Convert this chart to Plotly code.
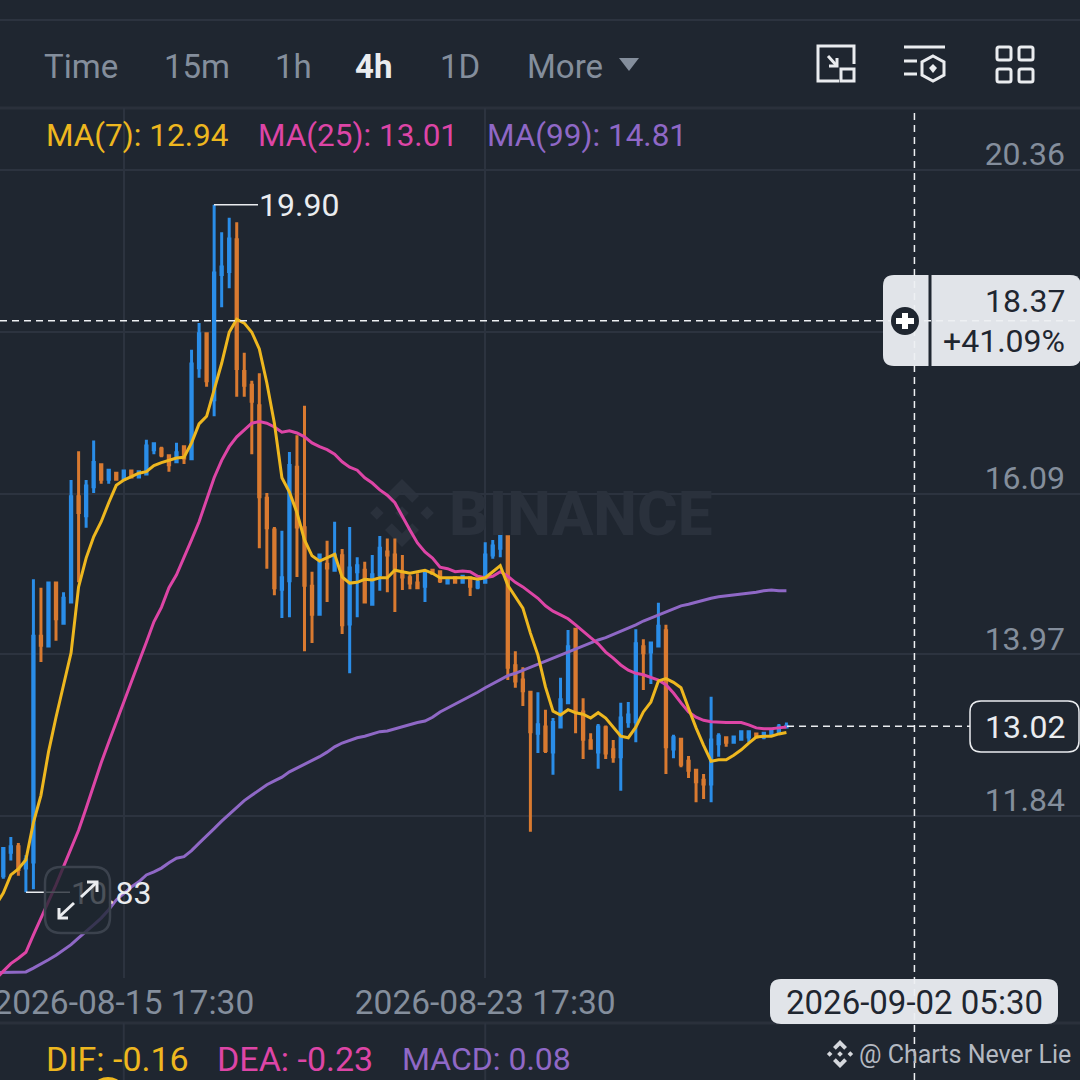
import pandas as pd
import plotly.graph_objects as go

BG = '#1f2630'
GRID = '#2c333f'
GREY = '#848e9c'
WHITE = '#eaecef'
LIGHT = '#e1e4e9'
DARK = '#1f2630'
BLUE = '#2a8de8'
ORANGE = '#d97a30'
YELLOW = '#eeb71f'
PINK = '#dd45a6'
PURPLE = '#8f68c6'
FONT = 'Roboto'

# 4h candles, first one sits just off the left edge
dates = pd.date_range('2026-08-12 21:30', periods=106, freq='4h')

opens = [11.00, 11.05, 11.36, 11.43, 11.15, 11.23, 14.21, 14.08, 14.91, 14.38, 14.66, 16.05, 15.80, 16.18, 16.47, 16.28, 16.36, 16.28, 16.39, 16.31, 16.35,
         16.67, 16.68, 16.59, 16.51, 16.71, 16.55, 17.75, 18.20, 17.33, 18.98, 19.02, 19.44, 17.70, 17.52, 17.25, 16.03, 15.61, 14.83, 14.94, 16.44,
         15.64, 14.87, 14.50, 15.16, 15.08, 15.27, 14.37, 15.06, 15.08, 14.63, 15.02, 15.32, 15.28, 15.04, 14.98, 14.91, 14.87, 15.08, 15.06, 14.91,
         14.98, 14.92, 14.98, 14.86, 14.92, 15.28, 15.37, 15.52, 13.82, 13.63, 13.47, 12.93, 13.01, 12.68, 13.01, 13.33, 14.30, 13.21, 12.83, 12.68,
         13.00, 12.71, 12.62, 13.08, 13.08, 14.07, 14.00, 14.08, 14.28, 12.72, 12.85, 12.56, 12.44, 12.31, 12.26, 12.79, 12.87, 12.81, 12.85, 12.88,
         12.92, 12.88, 12.92, 12.93, 13.01]
highs = [11.20, 11.42, 11.56, 11.48, 11.32, 14.96, 14.85, 14.91, 14.91, 14.79, 16.27, 16.65, 16.27, 16.79, 16.47, 16.40, 16.36, 16.40, 16.40, 16.38, 16.80,
         16.76, 16.71, 16.59, 16.76, 16.72, 17.99, 18.34, 18.20, 19.90, 19.54, 19.73, 19.67, 17.95, 17.58, 17.68, 16.10, 15.65, 15.60, 16.64, 16.86,
         17.25, 15.06, 15.28, 15.47, 15.72, 15.36, 15.65, 15.25, 15.19, 15.28, 15.53, 15.50, 15.50, 15.28, 15.02, 15.04, 15.08, 15.10, 15.07, 14.96,
         14.99, 15.02, 14.99, 14.98, 15.45, 15.48, 15.56, 15.53, 14.01, 13.80, 13.47, 13.47, 13.24, 13.13, 13.66, 14.29, 14.30, 13.39, 12.93, 13.05,
         13.03, 12.84, 13.33, 13.34, 14.30, 14.17, 14.13, 14.65, 14.36, 12.91, 12.85, 12.63, 12.44, 12.39, 13.41, 12.93, 12.89, 12.88, 12.96, 12.97,
         12.93, 12.93, 12.97, 13.05, 13.07]
lows = [10.90, 11.01, 11.25, 11.05, 10.83, 10.87, 13.87, 14.08, 14.15, 14.37, 14.65, 14.92, 15.64, 16.10, 16.22, 16.22, 16.27, 16.28, 16.31, 16.31, 16.34,
        16.61, 16.57, 16.38, 16.50, 16.48, 16.55, 17.62, 17.50, 17.11, 18.55, 18.80, 17.37, 17.37, 16.61, 15.37, 15.10, 14.75, 14.45, 14.46, 14.99,
        14.01, 14.12, 14.49, 14.66, 15.07, 14.24, 13.72, 14.46, 14.65, 14.62, 14.81, 14.79, 14.53, 14.82, 14.83, 14.83, 14.66, 15.03, 14.91, 14.90,
        14.90, 14.91, 14.74, 14.83, 14.91, 15.23, 15.25, 13.63, 13.53, 13.29, 11.63, 12.67, 12.67, 12.38, 13.01, 13.33, 12.93, 12.59, 12.71, 12.46,
        12.59, 12.54, 12.17, 13.00, 12.81, 13.50, 13.58, 14.08, 12.39, 12.60, 12.48, 12.34, 12.02, 12.06, 12.02, 12.62, 12.75, 12.81, 12.85, 12.81,
        12.88, 12.85, 12.92, 12.93, 13.00]
closes = [11.05, 11.41, 11.43, 11.13, 11.26, 14.21, 14.09, 14.91, 14.44, 14.71, 16.05, 15.84, 16.19, 16.50, 16.28, 16.40, 16.28, 16.39, 16.31, 16.38, 16.72,
          16.75, 16.60, 16.47, 16.63, 16.56, 17.80, 18.20, 17.58, 19.00, 19.08, 19.45, 17.74, 17.52, 17.31, 16.05, 15.64, 14.85, 14.98, 16.46, 15.65,
          14.88, 14.50, 15.28, 15.11, 15.28, 14.36, 15.11, 15.14, 14.66, 15.02, 15.37, 15.28, 15.08, 14.99, 14.91, 14.85, 15.06, 15.04, 14.94, 14.96,
          14.92, 15.00, 14.87, 14.92, 15.28, 15.40, 15.56, 13.80, 13.62, 13.49, 12.95, 13.04, 12.70, 13.07, 13.37, 14.07, 13.22, 12.85, 12.73, 13.01,
          12.67, 12.62, 13.13, 13.17, 14.11, 13.99, 14.12, 14.34, 12.75, 12.87, 12.52, 12.44, 12.29, 12.26, 12.84, 12.89, 12.81, 12.88, 12.95, 12.95,
          12.88, 12.93, 12.96, 13.01, 13.02]

ma7 = [10.66, 10.82, 11.06, 11.14, 11.26, 11.75, 12.11, 12.68, 13.14, 13.57, 13.99, 14.86, 15.24, 15.52, 15.72, 15.97, 16.20, 16.27, 16.32, 16.36, 16.38,
       16.46, 16.50, 16.53, 16.56, 16.57, 16.76, 17.01, 17.11, 17.46, 17.81, 18.22, 18.39, 18.34, 18.22, 18.00, 17.55, 17.02, 16.30, 16.11, 15.84,
       15.48, 15.27, 15.20, 15.24, 15.29, 14.99, 14.91, 14.92, 14.96, 14.95, 14.98, 14.98, 15.08, 15.06, 15.04, 15.06, 15.08, 15.04, 14.98, 14.98,
       14.98, 14.98, 14.98, 14.96, 14.98, 15.06, 15.14, 14.88, 14.73, 14.58, 14.25, 13.96, 13.54, 13.22, 13.17, 13.24, 13.20, 13.18, 13.13, 13.20,
       13.13, 13.01, 12.89, 12.87, 13.01, 13.21, 13.34, 13.62, 13.65, 13.60, 13.53, 13.26, 13.00, 12.77, 12.56, 12.58, 12.58, 12.64, 12.71, 12.80,
       12.88, 12.89, 12.89, 12.92, 12.94]
ma25 = [9.69, 9.79, 9.89, 9.96, 10.04, 10.27, 10.49, 10.69, 10.93, 11.17, 11.42, 11.65, 11.94, 12.25, 12.54, 12.81, 13.08, 13.33, 13.60, 13.87, 14.13,
        14.40, 14.59, 14.85, 15.02, 15.24, 15.48, 15.72, 16.01, 16.30, 16.53, 16.71, 16.84, 16.93, 17.02, 17.04, 17.02, 16.97, 16.90, 16.92, 16.89,
        16.84, 16.76, 16.71, 16.67, 16.61, 16.51, 16.44, 16.40, 16.30, 16.23, 16.14, 16.07, 15.97, 15.78, 15.61, 15.44, 15.32, 15.24, 15.12, 15.10,
        15.06, 15.07, 15.06, 15.00, 14.98, 15.00, 15.06, 15.00, 14.92, 14.86, 14.79, 14.71, 14.61, 14.54, 14.49, 14.44, 14.36, 14.27, 14.19, 14.11,
        14.00, 13.92, 13.83, 13.76, 13.72, 13.70, 13.67, 13.63, 13.57, 13.46, 13.33, 13.21, 13.14, 13.10, 13.08, 13.07, 13.07, 13.07, 13.07, 13.04,
        13.00, 12.99, 12.99, 13.00, 13.01]
ma99 = [9.77, 9.77, 9.77, 9.77, 9.78, 9.83, 9.88, 9.94, 10.00, 10.07, 10.14, 10.23, 10.31, 10.40, 10.49, 10.60, 10.73, 10.82, 10.90, 10.97, 11.06,
        11.10, 11.15, 11.22, 11.28, 11.30, 11.38, 11.48, 11.57, 11.67, 11.77, 11.86, 11.96, 12.04, 12.11, 12.18, 12.25, 12.30, 12.35, 12.42, 12.47,
        12.51, 12.56, 12.62, 12.68, 12.75, 12.80, 12.84, 12.87, 12.89, 12.92, 12.95, 12.96, 12.99, 13.01, 13.04, 13.07, 13.09, 13.14, 13.21, 13.26,
        13.32, 13.37, 13.42, 13.47, 13.53, 13.58, 13.63, 13.69, 13.72, 13.76, 13.80, 13.84, 13.88, 13.92, 13.96, 14.00, 14.04, 14.08, 14.12, 14.16,
        14.19, 14.23, 14.27, 14.32, 14.36, 14.41, 14.45, 14.50, 14.54, 14.58, 14.61, 14.63, 14.66, 14.69, 14.71, 14.73, 14.74, 14.75, 14.77, 14.78,
        14.79, 14.81, 14.82, 14.81, 14.81]

# the 18.22 label is hidden behind the crosshair popup in the app
price_ticks = [20.36, 18.22, 16.09, 13.97, 11.84, 9.70]
price_labels = ['20.36', '', '16.09', '13.97', '11.84', '9.70']
time_ticks = ['2026-08-15 17:30', '2026-08-23 17:30']
cross_time = '2026-09-02 05:30'
cross_price = 18.37
last_price = 13.02
high_price = 19.90
low_price = 10.83


def fx(x):
    return x / 1080


def fy(y):
    return 1 - y / 1080


def pt(x, y):
    return f'{fx(x)},{fy(y)}'


def rrect(x0, y0, x1, y1, r):
    return (f'M{pt(x0 + r, y0)} L{pt(x1 - r, y0)} Q{pt(x1, y0)} {pt(x1, y0 + r)} '
            f'L{pt(x1, y1 - r)} Q{pt(x1, y1)} {pt(x1 - r, y1)} L{pt(x0 + r, y1)} '
            f'Q{pt(x0, y1)} {pt(x0, y1 - r)} L{pt(x0, y0 + r)} Q{pt(x0, y0)} {pt(x0 + r, y0)} Z')


def poly(points, close=True):
    s = 'M' + ' L'.join(pt(x, y) for x, y in points)
    return s + (' Z' if close else '')


shapes = []


def add_path(path, fill=None, line=None, width=0, layer='above'):
    shapes.append(dict(type='path', path=path, xref='paper', yref='paper', layer=layer,
                       fillcolor=fill if fill else 'rgba(0,0,0,0)',
                       line=dict(color=line if line else 'rgba(0,0,0,0)', width=width)))


def hline(y, color=GRID, width=2, x0=0, x1=1080):
    shapes.append(dict(type='line', xref='paper', yref='paper', x0=fx(x0), x1=fx(x1), y0=fy(y), y1=fy(y),
                       line=dict(color=color, width=width), layer='below'))


def logo(cx, cy, s, color, layer='above'):
    for dx, dy, r in [(0, 0, 0.2), (-0.74, 0, 0.2), (0.74, 0, 0.2)]:
        add_path(poly([(cx + dx * s, cy - r * s), (cx + dx * s + r * s, cy), (cx + dx * s, cy + r * s), (cx + dx * s - r * s, cy)]),
                 fill=color, layer=layer)
    for d in (-1, 1):
        add_path(poly([(cx, cy + d * s), (cx + 0.5 * s, cy + d * 0.5 * s), (cx + 0.3 * s, cy + d * 0.3 * s), (cx, cy + d * 0.6 * s),
                       (cx - 0.3 * s, cy + d * 0.3 * s), (cx - 0.5 * s, cy + d * 0.5 * s)]), fill=color, layer=layer)


# frame lines
hline(20, '#2c333f', 2)
hline(108, '#2a303b', 3)
hline(1023, '#2a303b', 3)

# watermark
logo(402, 513, 34, '#2a313c', layer='below')

# macd panel gridlines
for t in time_ticks:
    shapes.append(dict(type='line', xref='x', yref='paper', x0=t, x1=t, y0=0, y1=fy(1023),
                       line=dict(color=GRID, width=2), layer='below'))

# high / low markers
shapes.append(dict(type='line', xref='paper', yref='y', x0=fx(214), x1=fx(258), y0=high_price, y1=high_price,
                   line=dict(color=WHITE, width=1.5)))
shapes.append(dict(type='line', xref='paper', yref='y', x0=fx(26), x1=fx(70), y0=low_price, y1=low_price,
                   line=dict(color=WHITE, width=1.5)))

# last price tag
shapes.append(dict(type='line', xref='paper', yref='y', x0=fx(787), x1=fx(970), y0=last_price, y1=last_price,
                   line=dict(color=WHITE, width=1.5, dash='7px,5px')))
add_path(rrect(970, 701, 1079, 752, 11), fill=BG, line=WHITE, width=1.5)

# time tag and crosshair popup
add_path(rrect(770, 979, 1058, 1024, 11), fill=LIGHT)
add_path(rrect(883, 275, 1081, 366, 11), fill=LIGHT)
shapes.append(dict(type='line', xref='paper', yref='paper', x0=fx(930), x1=fx(930), y0=fy(275), y1=fy(366),
                   line=dict(color=DARK, width=3)))
shapes.append(dict(type='line', xref='paper', yref='y', x0=0, x1=1, y0=cross_price, y1=cross_price,
                   line=dict(color='#eef0f3', width=1.5, dash='7px,5px')))
shapes.append(dict(type='line', xref='x', yref='paper', x0=cross_time, x1=cross_time, y0=0, y1=fy(108),
                   line=dict(color='#eef0f3', width=1.5, dash='7px,5px')))
shapes.append(dict(type='circle', xref='paper', yref='paper', x0=fx(891), x1=fx(919), y0=fy(335), y1=fy(307),
                   fillcolor=DARK, line=dict(width=0)))
add_path(poly([(902, 313), (908, 313), (908, 318), (914, 318), (914, 324), (908, 324), (908, 329), (902, 329), (902, 324), (896, 324), (896, 318), (902, 318)]),
         fill='#ffffff')

# menu triangle
add_path(poly([(619, 58), (639, 58), (629, 71)]), fill=GREY)

# icon: chart to window
add_path(poly([(839, 81), (818, 81), (818, 46), (854, 46), (854, 64)], close=False), line=WHITE, width=3)
add_path(poly([(828, 56), (837, 66)], close=False), line=WHITE, width=3)
add_path(poly([(837, 58), (837, 66), (829, 66)], close=False), line=WHITE, width=3)
add_path(poly([(841, 69), (854, 69), (854, 81), (841, 81)]), line=WHITE, width=3)

# icon: settings list
add_path(poly([(904, 47), (945, 47)], close=False), line=WHITE, width=3)
add_path(poly([(904, 61), (917, 61)], close=False), line=WHITE, width=3)
add_path(poly([(904, 74), (917, 74)], close=False), line=WHITE, width=3)
add_path(poly([(933, 56), (944, 62), (944, 75), (933, 81), (922, 75), (922, 62)]), line=WHITE, width=3)
add_path(poly([(933, 64), (937, 68), (933, 73), (929, 68)]), fill=WHITE)

# icon: grid
for x0, x1 in [(997, 1011), (1019, 1033)]:
    for y0, y1 in [(47, 60), (69, 82)]:
        add_path(rrect(x0, y0, x1, y1, 2), line=WHITE, width=3)

# expand button, sits over the low label so it dims the first digits
add_path(rrect(45, 867, 110, 933, 16), fill='rgba(31,38,48,0.78)', line='#3b424d', width=2.5)
add_path(poly([(59, 917), (74, 903)], close=False), line=WHITE, width=3)
add_path(poly([(59, 908), (59, 918), (68, 918)], close=False), line=WHITE, width=3)
add_path(poly([(96, 883), (81, 897)], close=False), line=WHITE, width=3)
add_path(poly([(87, 882), (97, 882), (97, 892)], close=False), line=WHITE, width=3)

# footer logo
logo(840, 1054, 14, '#d5d8dd')

# bit of the macd line at the very bottom
shapes.append(dict(type='circle', xref='paper', yref='paper', x0=fx(96), x1=fx(120), y0=fy(1090), y1=fy(1077),
                   fillcolor=YELLOW, line=dict(width=0)))

annotations = []


def label(x, y, text, color=GREY, size=30, anchor='left', weight=None, family=FONT):
    annotations.append(dict(x=fx(x), y=fy(y), xref='paper', yref='paper', text=text, showarrow=False,
                            xanchor=anchor, yanchor='middle', borderpad=0, borderwidth=0,
                            font=dict(color=color, size=size, family=family, weight=weight)))


label(44, 66, 'Time', size=33)
label(164, 66, '15m', size=33)
label(275, 66, '1h', size=33)
label(355, 66, '4h', WHITE, 33, weight=700)
label(440, 66, '1D', size=33)
label(527, 66, 'More', size=33)

label(46, 136, 'MA(7): 12.94', YELLOW, 31.5)
label(258, 136, 'MA(25): 13.01', PINK, 31.5)
label(487, 136, 'MA(99): 14.81', PURPLE, 31.5)

label(259, 205, '19.90', WHITE, 32)

label(580, 513, 'BINANCE', '#2a313c', 62, anchor='center', weight=800)
label(1065, 301, '18.37', DARK, 32, anchor='right')
label(1065, 341, '+41.09%', DARK, 32, anchor='right')
label(1065, 727, '13.02', WHITE, 32, anchor='right')
label(914, 1002, cross_time, DARK, 33, anchor='center')

label(46, 1059, 'DIF: -0.16', YELLOW, 34)
label(217, 1059, 'DEA: -0.23', PINK, 34)
label(402, 1059, 'MACD: 0.08', PURPLE, 32)
label(1071, 1054, '@ Charts Never Lie', '#b4b9c1', 25, anchor='right')

fig = go.Figure()
fig.add_trace(go.Candlestick(
    x=dates, open=opens, high=highs, low=lows, close=closes,
    increasing=dict(line=dict(color=BLUE, width=3), fillcolor=BLUE),
    decreasing=dict(line=dict(color=ORANGE, width=3), fillcolor=ORANGE),
    hoverinfo='skip', showlegend=False,
))
fig.add_trace(go.Scatter(x=dates, y=ma99, mode='lines', line=dict(color=PURPLE, width=3), hoverinfo='skip'))
fig.add_trace(go.Scatter(x=dates, y=ma25, mode='lines', line=dict(color=PINK, width=3), hoverinfo='skip'))
fig.add_trace(go.Scatter(x=dates, y=ma7, mode='lines', line=dict(color=YELLOW, width=3), hoverinfo='skip'))

# one candle is about 7.53px wide on screen
step = pd.Timedelta(hours=4) / 7.53
x_start = dates[1] - step * 3.3
x_end = x_start + step * 1080

# low label as a trace so the expand button can cover it
fig.add_trace(go.Scatter(x=[x_start + step * 71], y=[low_price - 0.05], mode='text', text=['10.83'],
                         textposition='middle right', textfont=dict(family=FONT, size=32, color=WHITE),
                         hoverinfo='skip'))

fig.update_layout(
    width=1080, height=1080, autosize=False,
    margin=dict(l=0, r=0, t=0, b=0, pad=0, autoexpand=False),
    paper_bgcolor=BG, plot_bgcolor=BG,
    showlegend=False, hovermode=False, boxgap=0.75,
    font=dict(family=FONT, color=GREY, size=30),
    shapes=shapes, annotations=annotations,
    xaxis=dict(
        type='date', range=[x_start, x_end], domain=[0, 1], rangeslider=dict(visible=False),
        tickmode='array', tickvals=time_ticks, ticktext=time_ticks, ticklen=0, automargin=False,
        showgrid=True, gridcolor=GRID, gridwidth=2, zeroline=False, showline=False,
        ticklabeloverflow='allow', ticklabelstandoff=1,
        tickfont=dict(family=FONT, size=33.5, color=GREY),
    ),
    yaxis=dict(
        type='linear', range=[9.70, 21.178], domain=[fy(978), fy(108)], side='right', automargin=False,
        tickmode='array', tickvals=price_ticks, ticktext=price_labels, ticklen=0,
        showgrid=True, gridcolor=GRID, gridwidth=2, zeroline=False, showline=False,
        ticklabelposition='inside', ticklabelshift=-16, ticklabelstandoff=12,
        tickfont=dict(family=FONT, size=32, color=GREY),
    ),
)

fig.write_html('out.html', config=dict(displayModeBar=False),
               post_script="document.body.style.margin='0';document.body.style.background='#1f2630';")
